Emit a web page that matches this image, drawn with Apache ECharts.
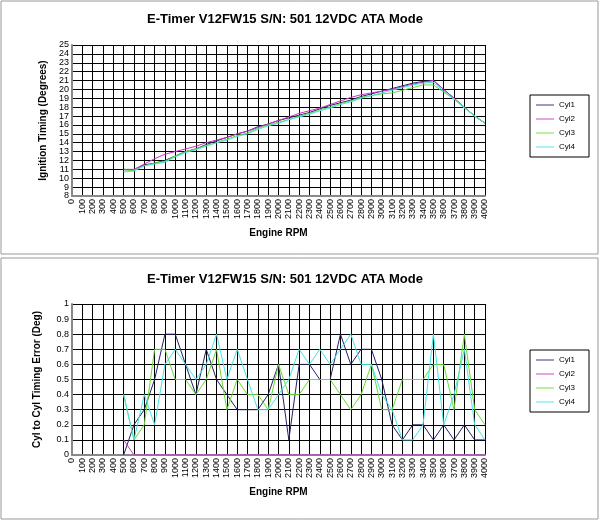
<!DOCTYPE html>
<html>
<head>
<meta charset="UTF-8">
<script src="https://cdn.jsdelivr.net/npm/echarts@6/dist/echarts.min.js"></script>
</head>
<body style="margin:0">
<div id="chart" style="width:600px;height:521px;"></div>
<script>
// rpm categories 0..4000 step 100
var rpm = [];
for (var r = 0; r <= 4000; r += 100) rpm.push(String(r));
var pad = [null, null, null, null, null]; // 0-400 rpm, no data

// timing (degrees), 500..4000 rpm
var timCyl1 = [11, 10.9, 11.5, 11.7, 12, 12.5, 13, 13.3, 13.8, 14.2, 14.6, 15, 15.3, 15.8, 16.1, 16.5, 16.8, 17.1, 17.4, 17.8, 18.2, 18.5, 18.8, 19.2, 19.5, 19.8, 20.1, 20.4, 20.7, 20.9, 21, 20, 19, 18, 17, 16.2];
var timCyl2 = [11, 11, 11.6, 12.2, 12.7, 13, 13.3, 13.6, 14, 14.3, 14.6, 15, 15.3, 15.7, 16.1, 16.5, 16.9, 17.3, 17.6, 17.9, 18.3, 18.7, 19.1, 19.4, 19.6, 19.8, 20, 20.3, 20.6, 20.8, 21, 20, 19, 18, 17, 16.2];
var timCyl3 = [10.8, 10.9, 11.4, 11.7, 11.9, 12.5, 13, 13.3, 13.7, 14, 14.4, 14.8, 15.1, 15.6, 16, 16.3, 16.6, 17, 17.3, 17.7, 18, 18.4, 18.7, 19.1, 19.3, 19.5, 19.6, 19.9, 20.2, 20.5, 20.5, 19.7, 18.9, 18, 17, 16.2];
var timCyl4 = [10.7, 10.8, 11.4, 11.6, 11.8, 12.4, 12.9, 13.2, 13.6, 14, 14.3, 14.7, 15, 15.5, 15.9, 16.2, 16.6, 16.9, 17.2, 17.6, 17.9, 18.3, 18.6, 19, 19.3, 19.6, 19.9, 20.2, 20.5, 20.7, 20.8, 19.8, 18.9, 17.9, 17, 16.2];

// cyl to cyl error (deg), 500..4000 rpm
var errCyl1 = [0, 0.2, 0.3, 0.5, 0.8, 0.8, 0.6, 0.4, 0.7, 0.5, 0.4, 0.3, 0.3, 0.3, 0.4, 0.6, 0.1, 0.6, 0.6, 0.5, 0.5, 0.8, 0.6, 0.7, 0.7, 0.5, 0.2, 0.1, 0.2, 0.2, 0.1, 0.2, 0.1, 0.2, 0.1, 0.1];
var errCyl2 = [0.1, 0, 0, 0, 0, 0, 0, 0, 0, 0, 0, 0, 0, 0, 0, 0, 0, 0, 0, 0, 0, 0, 0, 0, 0, 0, 0, 0, 0, 0, 0, 0, 0, 0, 0, 0];
var errCyl3 = [0.4, 0.1, 0.2, 0.7, 0.7, 0.5, 0.5, 0.4, 0.5, 0.7, 0.3, 0.5, 0.4, 0.4, 0.3, 0.6, 0.4, 0.4, 0.5, 0.5, 0.5, 0.4, 0.3, 0.4, 0.6, 0.3, 0.3, 0.5, 0.5, 0.5, 0.6, 0.6, 0.3, 0.8, 0.3, 0.2];
var errCyl4 = [0.4, 0.1, 0.4, 0.2, 0.6, 0.7, 0.6, 0.5, 0.6, 0.8, 0.5, 0.7, 0.5, 0.3, 0.3, 0.4, 0.5, 0.7, 0.6, 0.7, 0.6, 0.7, 0.8, 0.6, 0.6, 0.4, 0.3, 0.1, 0.1, 0.2, 0.8, 0.2, 0.4, 0.7, 0.2, 0.1];

var names = ['Cyl1', 'Cyl2', 'Cyl3', 'Cyl4'];
var colors = ['#222266', '#cc33cc', '#66dd33', '#44e4e4'];
var title = 'E-Timer V12FW15 S/N: 501 12VDC ATA Mode';

function ser(data, i, idx) {
    return {
        name: names[i], type: 'line', xAxisIndex: idx, yAxisIndex: idx,
        data: pad.concat(data), showSymbol: false, symbol: 'none',
        lineStyle: {width: 1, color: colors[i]}, itemStyle: {color: colors[i]},
        animation: false
    };
}

function xAx(idx) {
    return {
        type: 'category', gridIndex: idx, data: rpm, boundaryGap: false,
        name: 'Engine RPM', nameLocation: 'middle', nameGap: 32,
        nameTextStyle: {fontSize: 10, fontWeight: 'bold', color: '#000'},
        axisLine: {lineStyle: {color: '#888', width: 2}},
        axisTick: {show: false},
        axisLabel: {rotate: 90, fontSize: 9, color: '#000', interval: 0, margin: 3},
        splitLine: {show: true, interval: 0, lineStyle: {color: '#000', width: 1}}
    };
}

function legendBox(top) {
    return {
        orient: 'vertical', left: 530, top: top, data: names,
        icon: 'path://M0,5L20,5L20,6L0,6Z', itemWidth: 18, itemHeight: 4, itemGap: 6,
        textStyle: {fontSize: 8, color: '#000'},
        borderColor: '#000', borderWidth: 1, padding: [6, 14, 6, 6]
    };
}

var chart = echarts.init(document.getElementById('chart'));
chart.setOption({
    backgroundColor: '#fff',
    color: colors,
    title: [
        {text: title, left: 280, textAlign: 'center', top: 8, textStyle: {fontSize: 13, fontWeight: 'bold', color: '#000'}},
        {text: title, left: 280, textAlign: 'center', top: 268, textStyle: {fontSize: 13, fontWeight: 'bold', color: '#000'}}
    ],
    legend: [legendBox(95), legendBox(350)],
    graphic: [
        {type: 'rect', shape: {x: 1, y: 1, width: 597, height: 253}, style: {fill: 'none', stroke: '#999'}},
        {type: 'rect', shape: {x: 1, y: 258, width: 597, height: 261}, style: {fill: 'none', stroke: '#999'}}
    ],
    grid: [
        {left: 72, right: 115, top: 45, height: 151},
        {left: 72, right: 115, top: 304, height: 151}
    ],
    xAxis: [xAx(0), xAx(1)],
    yAxis: [
        {type: 'value', gridIndex: 0, min: 8, max: 25, interval: 1,
            name: 'Ignition Timing (Degrees)', nameLocation: 'middle', nameGap: 22,
            nameTextStyle: {fontSize: 10, fontWeight: 'bold', color: '#000'},
            axisLine: {show: true, lineStyle: {color: '#888', width: 2}}, axisTick: {show: false},
            axisLabel: {fontSize: 9, color: '#000', margin: 3},
            splitLine: {lineStyle: {color: '#000'}}},
        {type: 'value', gridIndex: 1, min: 0, max: 1, interval: 0.1,
            name: 'Cyl to Cyl Timing Error (Deg)', nameLocation: 'middle', nameGap: 30,
            nameTextStyle: {fontSize: 10, fontWeight: 'bold', color: '#000'},
            axisLine: {show: true, lineStyle: {color: '#888', width: 2}}, axisTick: {show: false},
            axisLabel: {fontSize: 9, color: '#000', margin: 3,
                formatter: function (v) { return Math.round(v * 10) / 10; }},
            splitLine: {lineStyle: {color: '#000'}}}
    ],
    series: [
        ser(timCyl1, 0, 0), ser(timCyl2, 1, 0), ser(timCyl3, 2, 0), ser(timCyl4, 3, 0),
        ser(errCyl1, 0, 1), ser(errCyl2, 1, 1), ser(errCyl3, 2, 1), ser(errCyl4, 3, 1)
    ]
});
</script>
</body>
</html>
